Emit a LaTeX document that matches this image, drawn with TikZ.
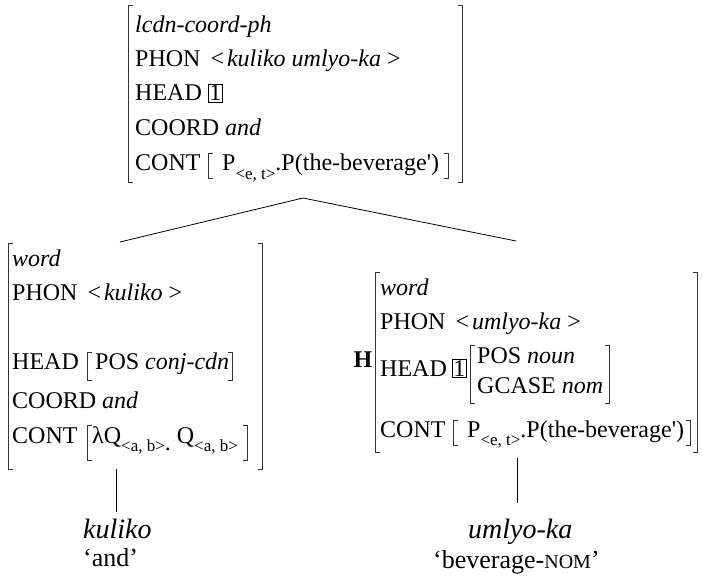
\documentclass[tikz,border=0pt]{standalone}
\usepackage{fontspec}
\setmainfont{Liberation Serif}
\usepackage{tikz}

\newcommand{\typsub}[1]{\raisebox{-0.35em}{\fontsize{17}{17}\selectfont #1}}
\newcommand{\tagbox}[1]{{\setlength{\fboxsep}{1pt}\setlength{\fboxrule}{0.6pt}\fbox{#1}}}

\begin{document}
\begin{tikzpicture}[x=1pt,y=-1pt,
        attr/.style={anchor=base west,inner sep=0pt,font=\fontsize{24}{28}\selectfont},
        frame/.style={inner sep=0pt,outer sep=0pt},
        bracket/.style={draw=black!80,line width=0.7pt},
        branch/.style={draw=black,line width=0.8pt},
        lex/.style={anchor=base west,inner sep=0pt,font=\fontsize{28}{30}\selectfont\itshape},
        gloss/.style={anchor=base west,inner sep=0pt,font=\fontsize{26}{30}\selectfont}
    ]

    \useasboundingbox (0,0) rectangle (702,580);

    % feature structures, outer and inner
    \node[frame,minimum width=334,minimum height=177] (top) at (295,93.5) {};
    \node[frame,minimum width=240,minimum height=25] (top-contv) at (328,165.5) {};
    \node[frame,minimum width=254,minimum height=226] (left) at (135,356) {};
    \node[frame,minimum width=145,minimum height=28] (left-headv) at (159.5,366) {};
    \node[frame,minimum width=160,minimum height=35] (left-contv) at (167,442.5) {};
    \node[frame,minimum width=322,minimum height=180] (right) at (536,362) {};
    \node[frame,minimum width=139,minimum height=58] (right-headv) at (539.5,374) {};
    \node[frame,minimum width=237,minimum height=25] (right-contv) at (571.5,432.5) {};

    \foreach \f in {top,top-contv,left,left-headv,left-contv,right,right-headv,right-contv}{
        \draw[bracket] ([xshift=4.5pt]\f.north west) -- (\f.north west) -- (\f.south west) -- ([xshift=4.5pt]\f.south west);
        \draw[bracket] ([xshift=-4.5pt]\f.north east) -- (\f.north east) -- (\f.south east) -- ([xshift=-4.5pt]\f.south east);
    }

    % mother
    \node[attr] (t-type) at (135,33) {\textit{lcdn-coord-ph}};
    \node[attr] (t-phon) at (135,67) {PHON\hspace{10pt}<\hspace{3pt}\textit{kuliko umlyo-ka}\hspace{6pt}>};
    \node[attr] (t-head) at (135,101) {HEAD\hspace{6pt}\tagbox{1}};
    \node[attr] (t-coord) at (135,136) {COORD \textit{and}};
    \node[attr] (t-cont) at (135,171) {CONT};
    \node[attr] (t-val) at (222,171) {P\typsub{<e, t>}.P(the-beverage\textquotesingle)};

    % conjunction
    \node[attr] (l-type) at (12,267) {\textit{word}};
    \node[attr] (l-phon) at (12,301) {PHON\hspace{10pt}<\hspace{3pt}\textit{kuliko}\hspace{6pt}>};
    \node[attr] (l-head) at (12,370) {HEAD};
    \node[attr] (l-pos) at (95,370) {POS \textit{conj-cdn}};
    \node[attr] (l-coord) at (12,408) {COORD \textit{and}};
    \node[attr] (l-cont) at (12,443) {CONT};
    \node[attr] (l-val) at (92,443) {λQ\typsub{<a, b>}\raisebox{-0.3em}{.} Q\typsub{<a, b>}};

    % head daughter
    \node[attr,anchor=base] (hd) at (363,367) {\textbf{H}};
    \node[attr] (r-type) at (380,296) {\textit{word}};
    \node[attr] (r-phon) at (380,330) {PHON\hspace{10pt}<\hspace{3pt}\textit{umlyo-ka}\hspace{6pt}>};
    \node[attr] (r-head) at (380,376) {HEAD\hspace{5pt}\tagbox{1}};
    \node[attr] (r-pos) at (477,363) {POS \textit{noun}};
    \node[attr] (r-case) at (477,393) {GCASE \textit{nom}};
    \node[attr] (r-cont) at (380,437) {CONT};
    \node[attr] (r-val) at (467,437) {P\typsub{<e, t>}.P(the-beverage\textquotesingle)};

    % words and glosses
    \node[lex] (lex-l) at (83,538) {kuliko};
    \node[gloss] (gl-l) at (83,566) {`and'};
    \node[lex] (lex-r) at (468,538) {umlyo-ka};
    \node[gloss] (gl-r) at (433,568) {`beverage-{\fontsize{20}{20}\selectfont NOM}'};

    % branches
    \coordinate (apex) at (303,198);
    \coordinate (l-arm) at (120,242);
    \coordinate (r-arm) at (516,241);
    \draw[branch] (l-arm) -- (apex) -- (r-arm);

    \coordinate (l-foot) at (116,512);
    \coordinate (r-top) at (517,458);
    \coordinate (r-foot) at (517,503);
    \draw[branch] (l-foot |- left.south) -- (l-foot);
    \draw[branch] (r-top) -- (r-foot);

\end{tikzpicture}
\end{document}
